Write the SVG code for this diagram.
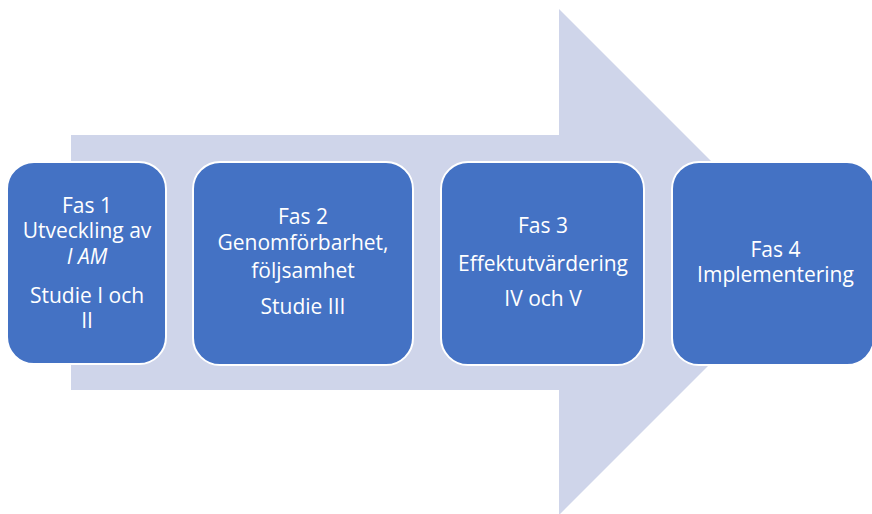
<svg xmlns="http://www.w3.org/2000/svg" width="872" height="514" viewBox="0 0 872 514">
<style>
.box{fill:#4472C4;stroke:#FFFFFF;stroke-width:2}
.t{font-family:"Open Sans","Liberation Sans",sans-serif;font-size:21px;fill:#FFFFFF;text-anchor:middle}
</style>
<rect width="872" height="514" fill="#FFFFFF"/>
<g id="arrow">
<polygon points="71,135 559,135 559,9 812,262 559,515 559,390 71,390" fill="#CFD5EA"/>
</g>
<g id="connectors"></g>
<g id="fas1">
<rect class="box" x="7" y="162" width="159" height="202" rx="27"/>
<text class="t" x="87" y="212.5">Fas 1</text>
<text class="t" x="87" y="238">Utveckling av</text>
<text class="t" x="87" y="264" font-style="italic">I AM</text>
<text class="t" x="87" y="302.5">Studie I och</text>
<text class="t" x="87" y="327.5">II</text>
</g>
<g id="fas2">
<rect class="box" x="193" y="162" width="220" height="203" rx="27"/>
<text class="t" x="303" y="224">Fas 2</text>
<text class="t" x="303" y="250">Genomförbarhet,</text>
<text class="t" x="303" y="277.5">följsamhet</text>
<text class="t" x="303" y="314">Studie III</text>
</g>
<g id="fas3">
<rect class="box" x="441" y="162" width="203" height="203" rx="27"/>
<text class="t" x="543" y="233">Fas 3</text>
<text class="t" x="543" y="271">Effektutvärdering</text>
<text class="t" x="543" y="305.5">IV och V</text>
</g>
<g id="fas4">
<rect class="box" x="672" y="162" width="202" height="203" rx="27"/>
<text class="t" x="775.5" y="257">Fas 4</text>
<text class="t" x="775.5" y="282">Implementering</text>
</g>
</svg>
